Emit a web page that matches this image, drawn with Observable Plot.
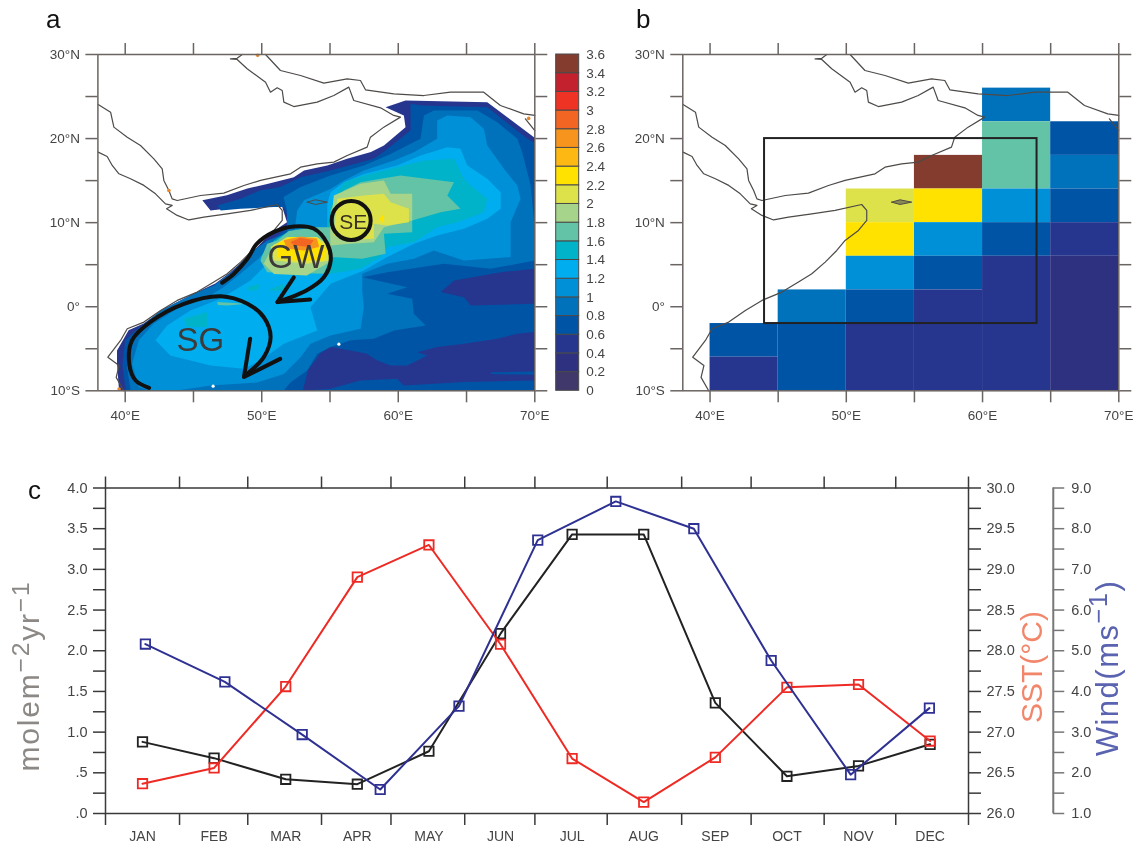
<!DOCTYPE html>
<html><head><meta charset="utf-8">
<script src="https://cdn.jsdelivr.net/npm/d3@7"></script>
<script src="https://cdn.jsdelivr.net/npm/@observablehq/plot@0.6"></script>
<style>
html,body{margin:0;padding:0;background:#fff}
#page{position:relative;width:1136px;height:843px;overflow:hidden;font-family:"Liberation Sans",Arial,sans-serif;filter:blur(.45px)}
#page svg{position:absolute;background:transparent;overflow:visible}
.letter{position:absolute;font-size:26px;color:#111;line-height:1}
.vt{position:absolute;white-space:nowrap;line-height:1;transform:translate(-50%,-50%) rotate(-90deg)}
.vt sup{font-size:.82em;line-height:0;vertical-align:.42em}
</style></head><body><div id="page"></div>
<script>
// ---------- colour levels (colour bar of panel a) ----------
const levelEdges = [.2,.4,.6,.8,1,1.2,1.4,1.6,1.8,2,2.2,2.4,2.6,2.8,3,3.2,3.4];
const levelColors = ["#40386a","#2e3080","#26368f","#0054a6","#0072bc","#0090d7","#00aeef","#00b3c8","#62c3a6","#a5d48a","#dde24a","#ffe200","#fdb813","#f7941d","#f26522","#ee3224","#c4212e","#833c2e"];
const barValues = [0,.2,.4,.6,.8,1,1.2,1.4,1.6,1.8,2,2.2,2.4,2.6,2.8,3,3.2,3.4];
const barLabels = [0,.2,.4,.6,.8,1,1.2,1.4,1.6,1.8,2,2.2,2.4,2.6,2.8,3,3.2,3.4,3.6];

// ---------- coastlines (lon, lat) ----------
const coastAfrica = [38.02,18.39,38.68,17.87,39.05,16.8,39.54,15.81,40.39,15.22,41.37,14.43,42.22,13.43,42.95,12.24,43.44,12.05,43.03,11.65,43.81,10.86,44.66,10.32,45.76,10.66,47.47,11.05,49.18,11.45,51.13,12.16,51.5,11.45,51.5,10.26,50.89,9.07,49.91,7.88,49.3,6.69,48.45,5.31,47.47,3.92,46.49,2.93,45.27,1.74,43.81,.75,42.59,-.44,41.37,-1.83,40.15,-2.62,39.66,-4.01,38.73,-6,39.55,-7,39.34,-8.4,39.9,-10];
const coastArabia = [38.02,24.05,38.93,23.14,39.17,21.36,40.15,20.17,41.12,19.18,42.1,17.59,42.71,16.4,42.83,15.02,43.2,13.83,43.44,12.83,43.81,12.63,45.52,13.23,47.22,13.51,48.69,14.42,49.91,15.02,52.11,15.81,52.84,16.6,54.06,17,55.28,17.2,56.26,17.99,57.72,18.98,57.96,20.17,58.94,21.36,60.16,22.55,59.67,22.75,58.7,23.66,56.74,24.53,56.38,26.12,55.28,25.12,54.06,24.33,52.35,23.81,51.62,24.33,51.5,25.72,51.13,26.04,50.64,25.52,50.28,26.71,48.93,28.3,48.2,29.41,47.71,29.48,48.2,29.55,48.57,30];
const coastIran = [50.28,30,51.37,28.1,52.84,27.5,54.55,26.59,56.26,27.11,57.23,26.91,57.6,25.8,59.67,25.32,61.87,25.12,63.82,25.52,66.26,25.52,67.48,23.94,69.19,22.94,70,22.75];
const coastGujarat = [69.31,22.35,70,20.96];
const socotra = [53.33,12.44,53.94,12.72,54.8,12.44,53.94,12.16,53.33,12.44];

// ---------- panel a: filled regions, lowest value first ----------
const ocean = [39.55,-10,39.4,-6.8,39.4,-5.2,40.25,-2.8,41.35,-2,42.85,-.25,45,1.55,46.6,2.75,47.7,4.1,49.2,6.3,50.15,7.9,51.35,9.5,51.85,10.05,51.5,11.85,50.9,12.25,48.45,11.85,46.25,11.45,45.65,12.65,47.45,13.25,48.95,14.05,50.4,14.6,52.35,15.4,53.1,16.2,54.8,16.8,56.25,17.6,58,18.4,58.95,19.17,60.53,21.35,60.41,22.74,59.07,23.73,60.53,24.53,66.52,24.33,69.94,20.17,70,20.1,70,-10];
const band07 = [40.05,-10,39.8,-7,40,-4,41,-2.5,43.05,-.65,45.25,1.15,46.75,2.35,47.95,3.7,49.4,6.1,50.4,7.5,51.6,9.05,52.1,9.45,52.1,10.05,51.6,11.85,50.9,11.85,48.45,11.65,47,11.45,46.75,12.05,48.45,12.85,49.9,13.85,51.35,14.25,52.85,15.4,55.04,16.2,58.2,17.6,59.07,18.58,60.9,20.96,60.9,24.13,61.63,23.93,66.52,23.73,69.45,19.97,70,19.5,70,-10];
const holeEast = [70,4.51,67.5,4.1,64.1,3.12,63.1,1.74,64.8,1.14,65.3,.15,70,.35];
const holeSouth = [54.3,-5.5,55.04,-4.8,56.5,-5.2,57.7,-5.6,58.46,-6.4,59.44,-7,60.66,-7,62.12,-5.8,61.39,-5.4,62.85,-4.8,64.8,-4.4,67.25,-3.8,68.7,-3.2,70,-3,70,-8.77,64.8,-8.96,60.4,-9.36,59.9,-8.57,57.2,-8.77,55.04,-9.76,53,-10,53.4,-7.5];
const stripeSouth = [66.8,-7.8,70,-7.7,70,-8.1,66.8,-8];
const band09 = [40.4,-10,40.14,-7.2,40.26,-4.4,41.12,-2.4,42.6,-.45,45.03,1.54,46.5,2.53,47.96,4.31,49.42,6.69,50.4,7.88,51.85,8.7,51.85,11.45,51.6,13.05,52.85,14.25,55.04,15.6,57.48,16.8,59.44,18.18,61.63,19.97,61.88,22.74,62.61,23.34,65.79,23.34,67.25,21.95,68.72,19.97,69.08,18.38,69.69,14.42,70,9.27,70,5.5,66.76,4.51,63.34,5.1,59.19,4.11,57.36,3.52,60.66,2.33,59.19,1.54,61.02,.94,61.14,-.84,62,-2.23,59.68,-2.82,58.21,-3.81,56.5,-4,55.04,-4.8,54.06,-5.6,53.33,-7.6,52.1,-9,51.6,-10];
const band11 = [41.85,-10,41,-9.56,40.5,-6.8,41,-4,42.1,-2,43.8,-.25,46,1.14,47.2,2.33,48.44,3.92,49.9,5.9,50.4,6.7,52.35,8.3,52.6,11.45,53.1,12.65,55.04,14,56.02,15,57.48,16.2,59.68,17.39,61.15,18.38,62.85,19.97,62.85,22.15,63.59,22.74,65.3,22.54,66.27,21.16,66.52,19.17,67.74,16.4,68.72,14.42,68.96,12.83,68.23,10.06,68.23,5.9,64.8,5.5,62.61,6.69,61.14,5.7,59.19,5.1,57.36,3.92,57.36,1.93,57.48,-.05,57.24,-2.62,55.04,-3.42,53.57,-4.4,52.84,-6,51.62,-8,49.66,-9,46.25,-9.36,43.8,-9.96];
const band13 = [55.04,13.63,56.02,14.82,57.48,15.8,59.92,16.8,61.63,17.99,63.59,18.98,64.56,18.78,65.05,16.8,66.52,15.21,67.5,13.63,67.5,11.64,66.52,10.45,64.8,9.27,62.85,8.47,61.15,7.48,59.19,5.9,57.48,4.31,55.04,2.73,53.57,-.05,54.06,-2.82,51.62,-4.4,49.91,-6.4,48.69,-7.38,46.25,-7,43.31,-5.8,42.22,-4,43.07,-2.23,44.78,-.44,46.98,.94,49.18,3.12,50.4,5.1,51.37,6.69,52.85,8.7,54.8,9.05,54.8,12.25];
const band15 = [56.02,14.82,57.48,15.6,61.88,17.39,64.08,17.59,64.8,15.21,65.3,14.42,66.52,12.83,66.27,11.25,64.32,10.06,62.85,9.46,61.15,7.68,59.19,7.09,58.7,5.9,57.24,4.51,55.04,3.92,52.6,3.92,50.64,4.31,49.9,5.9,50.9,7.88,52,9,53.1,9.05,54.8,9.45,55.04,11.85,55.5,13.5];
const patchSG = [44.29,-1.44,46,-.64,46,-2.42,44.5,-2.42];
const patchNE = [48.93,2.33,49.9,2.73,49.66,1.93,49.05,1.93];
const patchNF = [50.4,1.93,51.62,2.73,51.74,1.93];
const stripeSG = [46.73,.55,48.93,.35,47.5,.15,46.8,.2];
const band17 = [56.02,13.82,57.24,14.82,58.7,15.21,60.17,15.61,64.08,14.82,63.59,13.23,64.56,11.64,63.1,11.25,61.02,10.26,61.02,8.87,58.95,8.67,59.07,6.3,57.36,5.7,55.04,5.9,54.55,3.92,50.4,4.11,49.9,5.5,50.4,7.48,51.13,7.88,52,9,53.8,9.45,55.04,9.45,55.04,11.45,55.5,13.05];
const band19a = [55.28,13.23,57.24,14.62,58.95,15.01,59.44,13.43,61.02,13.43,61.02,10.26,58.95,9.46,58.21,7.68,56.5,7.48,55.04,7.28,55,9];
const band19b = [50.15,5.1,50.9,7.5,55.05,7.5,55.15,5.5,53.3,3.7,50.9,3.9];
const band21a = [55.53,12.83,57.48,13.23,58.95,13.43,59.44,12.43,60.78,11.64,60.78,10.06,59.19,9.66,58.21,9.86,58.21,8.08,56.02,7.88,55.28,8.5];
const band21b = [50.65,7.1,51.85,8.3,54.05,8.3,55.05,7.1,55.05,5.5,53.3,5.1,50.9,5.5];
const band23a = [58.58,10.45,58.95,11.05,58.95,9.86];
const band23b = [51.15,7.5,52.1,8.3,54.05,8.1,54.8,6.7,54.55,5.5,52.35,5.5,51.15,5.9];
const band27 = [51.6,7.9,52.85,8.35,54.05,8.1,54.2,7.1,53.1,6.7,51.85,6.9];
const band29 = [52.1,7.7,52.85,8.2,53.8,7.9,53.45,7.1,52.35,7.3];
const regionsA = [[ocean,.5],[band07,.7],[holeEast,.5],[holeSouth,.5],[stripeSouth,.7],[band09,.9],[band11,1.1],[band13,1.3],[band15,1.5],[patchSG,1.5],[patchNE,1.5],[patchNF,1.5],[stripeSG,1.7],[band17,1.7],[band19a,1.9],[band19b,1.9],[band21a,2.1],[band21b,2.1],[band23a,2.3],[band23b,2.3],[band27,2.7],[band29,2.9]];
const whiteSpecks = [{lon:55.65,lat:-4.45},{lon:46.44,lat:-9.45}];
const orangeSpecks = [{lon:39.55,lat:-9.8},{lon:43.2,lat:13.83},{lon:69.55,lat:22.4},{lon:49.7,lat:29.9}];

// ---------- panel a: annotations ----------
const gyreGW = [47.1,2.85,47.95,3.9,48.95,5.7,49.65,7.5,50.9,8.9,52.35,9.55,53.8,9.3,54.8,7.5,55.05,5.5,54.55,3.5,53.3,1.95,51.85,.95,51.15,.55];
const arrowGW = [52.35,3.5,51.15,.55,53.55,.85];
const gyreSG = [41.75,-9.65,40.75,-8.75,40.3,-6.8,40.5,-4,41.85,-1.8,44.3,.35,47,1.25,48.95,.35,50.15,-1.25,50.65,-3.6,50.15,-6,48.8,-8.15];
const arrowSG = [49.15,-3.8,48.7,-8.35,51.35,-6.2];
const eddySE = {lon:56.55,lat:10.26};
const annotations = [{t:"GW",lon:52.5,lat:5.9},{t:"SG",lon:45.5,lat:-4},{t:"SE",lon:56.7,lat:10.05}];

// ---------- panel b: cells [west, south, north, value], 5 deg wide ----------
const cellsB = [[60,22,26,.9],[60,14,22,1.7],[60,10,14,1.1],[60,6,10,.7],[60,-10,6,.5],
 [65,18,22,.7],[65,14,18,.9],[65,10,14,.7],[65,6,10,.5],[65,-10,6,.3],
 [55,14,18,3.5],[55,10,14,2.3],[55,6,10,1.1],[55,2,6,.7],[55,-10,2,.5],
 [50,10,14,2.1],[50,6,10,2.3],[50,2,6,1.1],[50,-2,2,.7],[50,-10,-2,.5],
 [45,-2,2,.9],[45,-10,-2,.7],[40,-6,-2,.7],[40,-10,-6,.5]];
const boxB = {w:44,e:64,s:-2,n:20};

// ---------- panel c ----------
const months = ["JAN","FEB","MAR","APR","MAY","JUN","JUL","AUG","SEP","OCT","NOV","DEC"];
const fluxValues = [.88,.68,.42,.36,.765,2.21,3.43,3.43,1.36,.457,.585,.85];
const sstValues = [26.366,26.56,27.56,28.905,29.3,28.08,26.675,26.14,26.69,27.55,27.585,26.89];
const windValues = [5.165,4.235,2.94,1.59,3.64,7.72,8.67,8,4.76,1.955,3.59];
const windPositions = [.04,1.15,2.23,3.32,4.42,5.52,6.61,7.7,8.78,9.89,10.99];
const monthTicks = [.517,1.47,2.5,3.47,4.5,5.48,6.49,7.53,8.5,9.52,10.52];
const majorY = [0,.5,1,1.5,2,2.5,3,3.5,4];
const minorY = [.25,.75,1.25,1.75,2.25,2.75,3.25,3.75];
const windAxisPos = 12.72, windTickEnd = 12.88, windLabelPos = 12.97;

// ---------- helpers ----------
const none = () => "";
const pts = (a,v) => d3.range(0,a.length,2).map(i=>({lon:a[i],lat:a[i+1],v}));
const colorScale = {type:"threshold",domain:levelEdges,range:levelColors};
const page = document.getElementById("page");
function place(svg,left,top){svg.style.left=left+"px";svg.style.top=top+"px";page.appendChild(svg);}
const AX="#6a6562", TX="#444";
const lonFmt = d=>d+"°E";
const latFmt = d=>d===0?"0°":d>0?d+"°N":(-d)+"°S";
function mapAxes(){
 const o={tickSize:12,stroke:AX,strokeWidth:1.5,fill:TX,label:null};
 return [
  Plot.axisX({...o,anchor:"bottom",ticks:[40,50,60,70],tickFormat:lonFmt,tickPadding:8}),
  Plot.axisX({...o,anchor:"bottom",ticks:[45,55,65],tickFormat:none}),
  Plot.axisX({...o,anchor:"top",ticks:[40,45,50,55,60,65,70],tickFormat:none}),
  Plot.axisY({...o,anchor:"left",ticks:[-10,0,10,20,30],tickFormat:latFmt,tickPadding:6}),
  Plot.axisY({...o,anchor:"left",ticks:[-5,5,15,25],tickFormat:none}),
  Plot.axisY({...o,anchor:"right",ticks:[-10,-5,0,5,10,15,20,25,30],tickFormat:none}),
  Plot.frame({stroke:AX,strokeWidth:1.5})
 ];
}
function coastMarks(){
 return [coastAfrica,coastArabia,coastIran,coastGujarat].map(c=>Plot.line(pts(c),{x:"lon",y:"lat",stroke:"#4d4a48",strokeWidth:1.2}));
}
function mapPlot(width,ml,mr,marks){
 return Plot.plot({width,height:410,marginLeft:ml,marginRight:mr,marginTop:24,marginBottom:49.7,
  x:{domain:[38,70],axis:null},y:{domain:[-10,30],axis:null},color:colorScale,
  style:{fontFamily:"Liberation Sans",fontSize:"13.5px",background:"transparent"},marks:[...marks,...mapAxes()]});
}

// panel a
const bold={stroke:"#111",strokeWidth:4,strokeLinecap:"round",strokeLinejoin:"round"};
const svgA = mapPlot(560,97.4,25.7,[
 ...regionsA.map(([r,v])=>Plot.line(pts(r,v),{x:"lon",y:"lat",fill:"v",curve:"linear-closed"})),
 Plot.dot(whiteSpecks,{x:"lon",y:"lat",r:1.6,fill:"#fff"}),
 ...coastMarks(),
 Plot.dot(orangeSpecks,{x:"lon",y:"lat",r:1.8,fill:"#e8872a"}),
 Plot.line(pts(socotra),{x:"lon",y:"lat",stroke:"#4d4a48",strokeWidth:1}),
 Plot.text(annotations.slice(0,2),{x:"lon",y:"lat",text:"t",fontSize:33,fill:"#3d3a3a"}),
 Plot.line(pts(gyreGW),{x:"lon",y:"lat",...bold,curve:"catmull-rom"}),
 Plot.line(pts(arrowGW),{x:"lon",y:"lat",...bold}),
 Plot.line(pts(gyreSG),{x:"lon",y:"lat",...bold,curve:"catmull-rom"}),
 Plot.line(pts(arrowSG),{x:"lon",y:"lat",...bold}),
 Plot.dot([eddySE],{x:"lon",y:"lat",r:19.5,stroke:"#111",strokeWidth:4,fill:"none"}),
 Plot.text(annotations.slice(2),{x:"lon",y:"lat",text:"t",fontSize:21,fill:"#3a3020"})
]);
place(svgA,0,30);

// colour bar
const svgBar = Plot.plot({width:70,height:410,marginLeft:5.7,marginRight:41.3,marginTop:24,marginBottom:49.7,
 x:{domain:[0,1],axis:null},y:{domain:[0,3.6],axis:null},color:colorScale,
 style:{fontFamily:"Liberation Sans",fontSize:"13.5px",background:"transparent"},
 marks:[Plot.rect(barValues,{x1:0,x2:1,y1:d=>d,y2:d=>d+.2,fill:d=>d+.1,stroke:"#4a4a4a",strokeWidth:1}),
  Plot.axisY({anchor:"right",ticks:barLabels,tickFormat:d=>String(d),tickSize:0,tickPadding:7,fill:TX,label:null})]});
place(svgBar,550,30);

// panel b
const svgB = mapPlot(516,62.3,17.7,[
 Plot.rect(cellsB,{x1:d=>d[0],x2:d=>d[0]+5,y1:d=>d[1],y2:d=>d[2],fill:d=>d[3]}),
 ...coastMarks(),
 Plot.line(pts(socotra),{x:"lon",y:"lat",stroke:"#4d4a48",strokeWidth:1,fill:"#8a8a50"}),
 Plot.rect([boxB],{x1:"w",x2:"e",y1:"s",y2:"n",fill:"none",stroke:"#222",strokeWidth:2})
]);
place(svgB,620,30);

// panel c
const fluxRows = months.map((m,i)=>({x:i,y:fluxValues[i]}));
const sstRows = months.map((m,i)=>({x:i,y:sstValues[i]-26}));
const windRows = windValues.map((w,i)=>({x:windPositions[i],y:(w-1)/2}));
function series(rows,color){
 return [Plot.line(rows,{x:"x",y:"y",stroke:color,strokeWidth:2}),
  Plot.dot(rows,{x:"x",y:"y",symbol:"square",r:5.3,stroke:color,strokeWidth:1.8,fill:"none"})];
}
const C="#3a3a3a";
const o={tickSize:12,stroke:C,strokeWidth:1.5,fill:TX,label:null};
const svgC = Plot.plot({width:1136,height:383,marginLeft:105,marginRight:168,marginTop:27.5,marginBottom:30,
 x:{domain:[-.517,11.536],axis:null},y:{domain:[0,4],axis:null},
 style:{fontFamily:"Liberation Sans",fontSize:"14.5px",background:"transparent"},
 marks:[
  ...series(fluxRows,"#222"),...series(sstRows,"#ee2a24"),...series(windRows,"#2e3192"),
  Plot.axisX({...o,anchor:"top",ticks:[-.517,...monthTicks,11.536],tickFormat:none}),
  Plot.axisX({...o,anchor:"bottom",ticks:[-.517,...monthTicks,11.536],tickFormat:none}),
  Plot.axisX({anchor:"bottom",ticks:d3.range(12),tickSize:0,tickPadding:18,tickFormat:i=>months[i],fill:TX,label:null,fontSize:14}),
  Plot.axisY({...o,anchor:"left",ticks:majorY,tickPadding:6,tickFormat:d=>d<1?d.toFixed(1).slice(1):d.toFixed(1)}),
  Plot.axisY({...o,anchor:"left",ticks:minorY,tickFormat:none}),
  Plot.axisY({...o,anchor:"right",ticks:majorY,tickPadding:6,tickFormat:d=>(26+d).toFixed(1)}),
  Plot.axisY({...o,anchor:"right",ticks:minorY,tickFormat:none}),
  Plot.frame({stroke:C,strokeWidth:1.5}),
  Plot.ruleX([windAxisPos],{y1:0,y2:4,stroke:"#777",strokeWidth:2}),
  Plot.ruleY([...majorY,...minorY],{y:d=>d,x1:windAxisPos,x2:windTickEnd,stroke:"#777",strokeWidth:1.5}),
  Plot.text(majorY,{y:d=>d,x:windLabelPos,text:d=>(2*d+1).toFixed(1),textAnchor:"start",fill:TX})
 ]});
place(svgC,0,460);

// letters and rotated titles
function html(cls,styleText,inner){const d=document.createElement("div");d.className=cls;d.style.cssText=styleText;d.innerHTML=inner;page.appendChild(d);}
html("letter","left:46px;top:6px","a");
html("letter","left:636px;top:6px","b");
html("letter","left:28px;top:477px","c");
html("vt","left:29px;top:676px;font-size:30px;color:#8c8885;letter-spacing:1.8px","molem<sup>−2</sup>yr<sup>−1</sup>");
html("vt","left:1032px;top:667px;font-size:30px;color:#f2866a","SST(°C)");
html("vt","left:1107px;top:668px;font-size:31px;color:#5a63b0;letter-spacing:1.5px","Wind(ms<sup>−1</sup>)");
</script></body></html>
